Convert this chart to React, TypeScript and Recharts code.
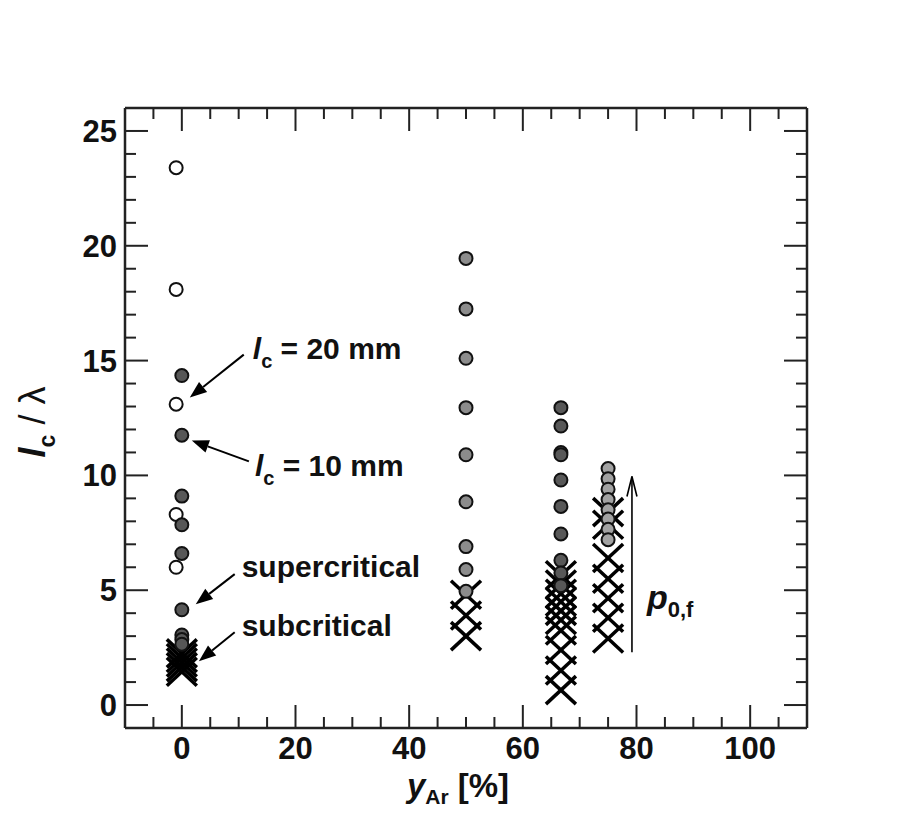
import React from 'react'
import { ScatterChart, Scatter, XAxis, YAxis, ReferenceLine } from 'recharts'

const FONT = '"Liberation Sans", Arial, Helvetica, sans-serif'
const INK = '#111'

// axis ticks
const X_MAJOR = [0, 20, 40, 60, 80, 100]
const X_MINOR = [-5, 5, 10, 15, 25, 30, 35, 45, 50, 55, 65, 70, 75, 85, 90, 95, 105]
const Y_MAJOR = [0, 5, 10, 15, 20, 25]
const Y_MINOR = [1, 2, 3, 4, 6, 7, 8, 9, 11, 12, 13, 14, 16, 17, 18, 19, 21, 22, 23, 24]

// y_Ar = 0 %, l_c = 20 mm (open) and l_c = 10 mm (filled)
const open0Y = [23.4, 18.1, 13.1, 8.3, 6.0]
const filled0Y = [14.35, 11.75, 9.1, 7.85, 6.6, 4.15, 3.05, 2.85, 2.65]
const sub0Y = [2.25, 2.05, 1.85, 1.65, 1.45]
// y_Ar = 50 %
const super50Y = [19.45, 17.25, 15.1, 12.95, 10.9, 8.85, 6.9, 5.9, 4.95]
const sub50Y = [4.8, 3.9, 3.0]
// y_Ar = 66.7 %
const super67Y = [12.95, 12.15, 11.0, 10.9, 9.8, 8.65, 7.45, 6.3, 5.75, 5.2]
const sub67Y = [5.65, 5.25, 4.85, 4.5, 4.1, 3.7, 3.25, 2.4, 1.5, 0.65]
// y_Ar = 75 %
const super75Y = [10.3, 9.85, 9.4, 8.95, 8.5, 8.1, 7.65, 7.2]
const sub75Y = [8.4, 7.85, 6.4, 5.5, 4.65, 3.8, 2.9]

const pts = (x: number, ys: number[]) => ys.map(y => ({ x, y }))

const dot = (fill: string) => (p: any) => (
  <circle cx={p.cx} cy={p.cy} r={6.5} fill={fill} stroke={INK} strokeWidth={2} />
)

const cross = (p: any) => (
  <g stroke="#000" strokeWidth={3.5}>
    <line x1={p.cx - 15} y1={p.cy - 14} x2={p.cx + 15} y2={p.cy + 14} />
    <line x1={p.cx - 15} y1={p.cy + 14} x2={p.cx + 15} y2={p.cy - 14} />
  </g>
)

const noTick = () => <g />

const lc = (rest: string) => [
  <tspan key="l" fontStyle="italic">l</tspan>,
  <tspan key="c" fontSize={20} dy={9}>c</tspan>,
  <tspan key="r" dy={-9}>{rest}</tspan>,
]

const pointer = (label: React.ReactNode, dx: number, dy: number) => (p: any) => {
  const { x1, y1, x2, y2 } = p
  const a = Math.atan2(y2 - y1, x2 - x1)
  const L = 17
  const W = 6.5
  const bx = x2 - L * Math.cos(a)
  const by = y2 - L * Math.sin(a)
  const nx = -Math.sin(a) * W
  const ny = Math.cos(a) * W
  return (
    <g>
      <line x1={x1} y1={y1} x2={bx} y2={by} stroke="#000" strokeWidth={2} />
      <polygon points={`${x2},${y2} ${bx + nx},${by + ny} ${bx - nx},${by - ny}`} fill="#000" />
      <text x={x1 + dx} y={y1 + dy} fontFamily={FONT} fontWeight="bold" fontSize={30} fill={INK}>
        {label}
      </text>
    </g>
  )
}

const pArrow = (p: any) => {
  const { x1, y1, y2 } = p
  const top = Math.min(y1, y2)
  const bottom = Math.max(y1, y2)
  return (
    <g>
      <line x1={x1} y1={bottom} x2={x1} y2={top} stroke="#000" strokeWidth={1.6} />
      <polyline points={`${x1 - 5},${top + 20} ${x1},${top} ${x1 + 5},${top + 20}`} fill="none" stroke="#000" strokeWidth={1.6} />
      <text x={x1 + 15} y={(top + bottom) / 2 + 45} fontFamily={FONT} fontWeight="bold" fontSize={34} fill={INK}>
        <tspan fontStyle="italic">p</tspan>
        <tspan fontSize={22} dy={8}>0,f</tspan>
      </text>
    </g>
  )
}

const YTitle = (props: any) => {
  const vb = props.viewBox || { x: 47, y: 100, width: 70, height: 620 }
  const x = vb.x - 10
  const y = vb.y + vb.height / 2 + 4
  return (
    <text x={x} y={y} transform={`rotate(-90 ${x} ${y})`} textAnchor="middle" fontFamily={FONT} fontSize={36} fill={INK}>
      <tspan fontStyle="italic" fontWeight="bold">l</tspan>
      <tspan fontWeight="bold" fontSize={23} dy={10}>c</tspan>
      <tspan dy={-10}> / λ</tspan>
    </text>
  )
}

const XTitle = (props: any) => {
  const vb = props.viewBox || { x: 117, y: 720, width: 682, height: 50 }
  const x = vb.x + vb.width / 2 - 8
  const y = vb.y + vb.height + 19
  return (
    <text x={x} y={y} textAnchor="middle" fontFamily={FONT} fontWeight="bold" fontSize={33} fill={INK}>
      <tspan fontStyle="italic">y</tspan>
      <tspan fontSize={21} dy={7}>Ar</tspan>
      <tspan dy={-7}> [%]</tspan>
    </text>
  )
}

const tickStyle = { fill: INK, fontSize: 31, fontWeight: 'bold', fontFamily: FONT }
const frame = { stroke: '#222', strokeWidth: 2.5 }
const tl = { stroke: '#222', strokeWidth: 2 }
const DX: [number, number] = [-10, 110]
const DY: [number, number] = [-1, 26]

export default function App() {
  return (
    <ScatterChart width={888} height={800} margin={{ top: 100, right: 89, bottom: 30, left: 47 }}>
      <XAxis xAxisId="x" type="number" dataKey="x" domain={DX} ticks={X_MAJOR} interval={0} allowDataOverflow
        tickLine={false} axisLine={false} height={50} tick={tickStyle} tickMargin={3} label={{ content: XTitle }} />
      <XAxis xAxisId="xb1" type="number" dataKey="x" domain={DX} ticks={X_MINOR} interval={0} mirror tickSize={11} height={1}
        allowDataOverflow tick={noTick} tickLine={tl} axisLine={frame} />
      <XAxis xAxisId="xb2" type="number" dataKey="x" domain={DX} ticks={X_MAJOR} interval={0} mirror tickSize={22} height={1}
        allowDataOverflow tick={noTick} tickLine={tl} axisLine={false} />
      <XAxis xAxisId="xt1" orientation="top" type="number" dataKey="x" domain={DX} ticks={X_MINOR} interval={0} mirror tickSize={11} height={1}
        allowDataOverflow tick={noTick} tickLine={tl} axisLine={frame} />
      <XAxis xAxisId="xt2" orientation="top" type="number" dataKey="x" domain={DX} ticks={X_MAJOR} interval={0} mirror tickSize={22} height={1}
        allowDataOverflow tick={noTick} tickLine={tl} axisLine={false} />

      <YAxis yAxisId="y" type="number" dataKey="y" domain={DY} ticks={Y_MAJOR} interval={0} allowDataOverflow
        tickLine={false} axisLine={false} width={70} tick={tickStyle} label={{ content: YTitle }} />
      <YAxis yAxisId="yl1" type="number" dataKey="y" domain={DY} ticks={Y_MINOR} interval={0} mirror tickSize={11} width={1}
        allowDataOverflow tick={noTick} tickLine={tl} axisLine={frame} />
      <YAxis yAxisId="yl2" type="number" dataKey="y" domain={DY} ticks={Y_MAJOR} interval={0} mirror tickSize={22} width={1}
        allowDataOverflow tick={noTick} tickLine={tl} axisLine={false} />
      <YAxis yAxisId="yr1" orientation="right" type="number" dataKey="y" domain={DY} ticks={Y_MINOR} interval={0} mirror tickSize={11} width={1}
        allowDataOverflow tick={noTick} tickLine={tl} axisLine={frame} />
      <YAxis yAxisId="yr2" orientation="right" type="number" dataKey="y" domain={DY} ticks={Y_MAJOR} interval={0} mirror tickSize={22} width={1}
        allowDataOverflow tick={noTick} tickLine={tl} axisLine={false} />

      <Scatter xAxisId="x" yAxisId="y" data={pts(0, sub0Y)} shape={cross} isAnimationActive={false} />
      <Scatter xAxisId="x" yAxisId="y" data={pts(-1, open0Y)} shape={dot('#fff')} isAnimationActive={false} />
      <Scatter xAxisId="x" yAxisId="y" data={pts(0, filled0Y)} shape={dot('#575757')} isAnimationActive={false} />
      <Scatter xAxisId="x" yAxisId="y" data={pts(50, sub50Y)} shape={cross} isAnimationActive={false} />
      <Scatter xAxisId="x" yAxisId="y" data={pts(50, super50Y)} shape={dot('#8c8c8c')} isAnimationActive={false} />
      <Scatter xAxisId="x" yAxisId="y" data={pts(66.7, sub67Y)} shape={cross} isAnimationActive={false} />
      <Scatter xAxisId="x" yAxisId="y" data={pts(66.7, super67Y)} shape={dot('#585858')} isAnimationActive={false} />
      <Scatter xAxisId="x" yAxisId="y" data={pts(75, sub75Y)} shape={cross} isAnimationActive={false} />
      <Scatter xAxisId="x" yAxisId="y" data={pts(75, super75Y)} shape={dot('#a2a2a2')} isAnimationActive={false} />

      <ReferenceLine xAxisId="x" yAxisId="y" segment={[{ x: 10.9, y: 15.26 }, { x: 1.4, y: 13.39 }]}
        shape={pointer(lc(' = 20 mm'), 9, 4)} />
      <ReferenceLine xAxisId="x" yAxisId="y" segment={[{ x: 11.8, y: 10.61 }, { x: 1.75, y: 11.52 }]}
        shape={pointer(lc(' = 10 mm'), 6, 15)} />
      <ReferenceLine xAxisId="x" yAxisId="y" segment={[{ x: 9.3, y: 5.7 }, { x: 2.45, y: 4.39 }]}
        shape={pointer('supercritical', 7, 3)} />
      <ReferenceLine xAxisId="x" yAxisId="y" segment={[{ x: 9.3, y: 3.17 }, { x: 3.0, y: 1.91 }]}
        shape={pointer('subcritical', 7, 4)} />
      <ReferenceLine xAxisId="x" yAxisId="y" segment={[{ x: 79.2, y: 2.3 }, { x: 79.2, y: 9.95 }]}
        shape={pArrow} />
    </ScatterChart>
  )
}
